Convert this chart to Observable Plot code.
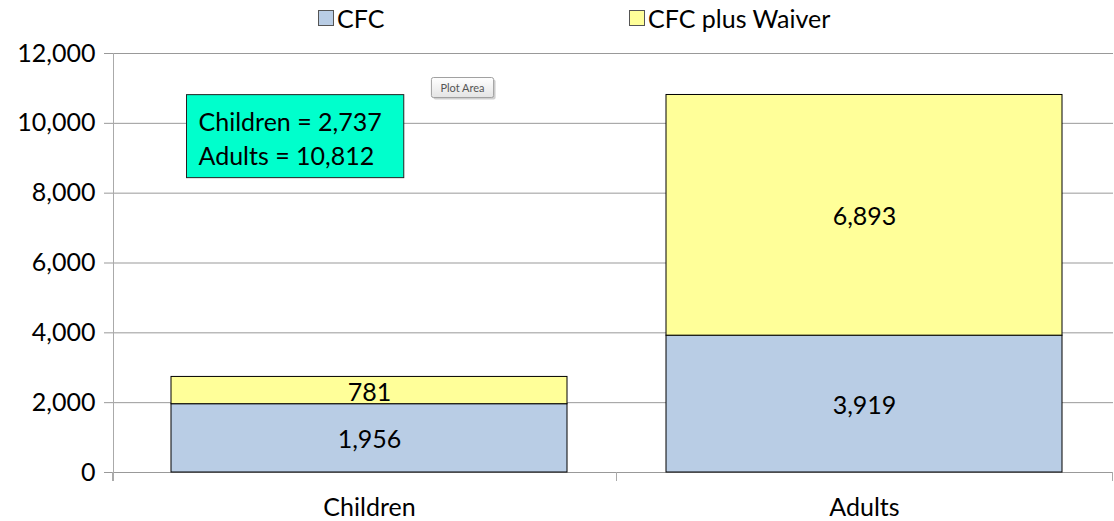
<!DOCTYPE html>
<html><head><meta charset="utf-8">
<script src="https://cdn.jsdelivr.net/npm/d3@7"></script>
<script src="https://cdn.jsdelivr.net/npm/@observablehq/plot@0.6"></script>
<style>
body{margin:0;background:#fff;font-family:Lato,sans-serif;color:#000;}
#legend{height:30px;display:flex;padding-left:318px;font-size:25px;}
.item{width:311px;display:flex;align-items:center;height:36px;}
.sw{width:14px;height:14px;border:1px solid #555;margin-right:3px;flex:none;}
</style></head><body>
<div id="legend"></div>
<div id="chart"></div>
<script>
const categories = ["Children", "Adults"];
const seriesNames = ["CFC", "CFC plus Waiver"];
const cfcValues = [1956, 3919];
const waiverValues = [781, 6893];
const yTicks = [0, 2000, 4000, 6000, 8000, 10000, 12000];
const seriesColors = ["#B9CDE5", "#FFFF99"];
const tooltipText = "Plot Area";

const fmt = d3.format(",");
const rows = [];
categories.forEach((c, i) => {
  let base = 0;
  [cfcValues[i], waiverValues[i]].forEach((v, j) => {
    rows.push({category: c, series: seriesNames[j], value: v, y1: base, y2: base + v});
    base += v;
  });
});
const totals = categories.map((c, i) => cfcValues[i] + waiverValues[i]);
const noteText = categories.map((c, i) => `${c} = ${fmt(totals[i])}`).join("\n");

// legend
const leg = d3.select("#legend");
seriesNames.forEach((s, i) => {
  const it = leg.append("div").attr("class", "item");
  it.append("div").attr("class", "sw").style("background", seriesColors[i]);
  it.append("span").text(s);
});

const plot = Plot.plot({
  width: 1114,
  height: 491,
  marginTop: 23,
  marginBottom: 49,
  marginLeft: 113,
  marginRight: 1,
  style: {fontFamily: "Lato, sans-serif", fontSize: "25px", background: "#fff", color: "#000", overflow: "visible"},
  x: {domain: categories, paddingInner: 0.2, paddingOuter: 0.11, align: 0.533, label: null},
  y: {domain: [0, 12000], label: null},
  color: {domain: seriesNames, range: seriesColors},
  marks: [
    Plot.gridY(yTicks, {stroke: "#999", strokeOpacity: 1}),
    Plot.axisY(yTicks, {tickFormat: fmt, fontSize: 25, tickSize: 9, tickPadding: 9, stroke: "#999", fill: "#000", label: null}),
    Plot.axisX({fontSize: 25, tickSize: 0, tickPadding: 26, fill: "#000", label: null}),
    Plot.barY(rows, {x: "category", y1: "y1", y2: "y2", fill: "series", stroke: "#000", strokeWidth: 1}),
    Plot.text(rows, {x: "category", y: d => (d.y1 + d.y2) / 2, dy: 2, text: d => fmt(d.value), fontSize: 25, fill: "#000"}),
    Plot.text([noteText], {frameAnchor: "top-left", dx: 85, dy: 53, lineAnchor: "top", textAnchor: "start", fontSize: 25, lineHeight: 1.36, fill: "#000"}),
    Plot.text([tooltipText], {frameAnchor: "top-left", dx: 349, dy: 35, lineAnchor: "middle", textAnchor: "middle", fontSize: 11, fill: "#555"})
  ]
});
document.getElementById("chart").appendChild(plot);

const svg = d3.select(plot);
const defs = svg.append("defs");
const grad = defs.append("linearGradient").attr("id", "tipgrad").attr("x1", 0).attr("y1", 0).attr("x2", 0).attr("y2", 1);
grad.append("stop").attr("offset", "0%").attr("stop-color", "#ffffff");
grad.append("stop").attr("offset", "100%").attr("stop-color", "#e4e4e4");

function findText(startsWith) {
  let found = null;
  svg.selectAll("text").each(function () {
    if (!found && this.textContent.startsWith(startsWith)) found = this;
  });
  return found;
}
function boxBehind(textNode, pad, attrs, offset = 0) {
  const bb = textNode.getBBox();
  const parent = d3.select(textNode.parentNode);
  const r = parent.insert("rect", ":first-child")
    .attr("transform", textNode.getAttribute("transform"))
    .attr("x", bb.x - pad[3] + offset).attr("y", bb.y - pad[0] + offset)
    .attr("width", bb.width + pad[1] + pad[3]).attr("height", bb.height + pad[0] + pad[2]);
  Object.entries(attrs).forEach(([k, v]) => r.attr(k, v));
  return r;
}
const tipNode = findText(tooltipText);
if (tipNode) {
  boxBehind(tipNode, [3.5, 9, 3.5, 9], {fill: "url(#tipgrad)", stroke: "#a0a0a0", rx: 2});
  boxBehind(tipNode, [3.5, 9, 3.5, 9], {fill: "#d0d0d0", rx: 2}, 2);
}
const noteNode = findText(categories[0] + " =");
if (noteNode) boxBehind(noteNode, [11, 22, 8, 12], {fill: "#00FFCC", stroke: "#222", "stroke-width": 1});

// axis lines from scales
const xs = plot.scale("x"), ys = plot.scale("y");
const x0 = xs.range[0], xEnd = xs.range[1];
const yBase = ys.apply(0), yTop = ys.apply(12000);
const axisG = svg.append("g").attr("stroke", "#aaa").attr("stroke-width", 1);
axisG.append("line").attr("x1", x0 + 0.5).attr("x2", x0 + 0.5).attr("y1", yTop).attr("y2", yBase + 9);
const bounds = [x0];
for (let i = 0; i < categories.length - 1; i++) {
  bounds.push((xs.apply(categories[i]) + xs.bandwidth + xs.apply(categories[i + 1])) / 2);
}
bounds.push(xEnd);
bounds.forEach(b => axisG.append("line").attr("x1", Math.round(b) - 0.5).attr("x2", Math.round(b) - 0.5).attr("y1", yBase).attr("y2", yBase + 9));
</script>
</body></html>
